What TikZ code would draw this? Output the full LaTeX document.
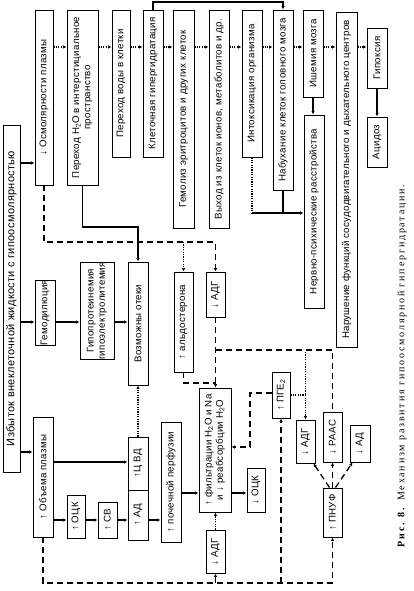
\documentclass[tikz,border=0pt]{standalone}
\usepackage{fontspec}
\setmainfont{Liberation Sans}[LetterSpace=3]
\newfontfamily\capfont{Liberation Serif}[LetterSpace=18]
\usetikzlibrary{arrows.meta}
\tikzset{
 box/.style={draw, line width=0.9pt, inner sep=0pt, font=\fontsize{9.7}{11.3}\selectfont, align=center},
 sl/.style={line width=1.3pt},
 arr/.style={-{Latex[length=3.5pt,width=3.5pt]}},
 dl/.style={line width=1.3pt, dash pattern=on 6pt off 4pt},
 dt/.style={line width=1.3pt, dash pattern=on 1.2pt off 1.2pt},
}
\newcommand\bx[6]{\node[box,minimum width={(#4)-(#2)},minimum height={(#5)-(#3)}] (#1) at ({((#2)+(#4))/2},{((#3)+(#5))/2}) {\rotatebox{90}{#6}};}
\newcommand\two[2]{\begin{tabular}{@{}c@{}}#1\\#2\end{tabular}}
\begin{document}
\begin{tikzpicture}[x=1pt,y=-1pt]
\useasboundingbox (0,0) rectangle (413,591);
% left box
\node[box,font=\fontsize{11}{13}\selectfont,minimum width=17,minimum height=347] (L) at (11.5,298.5) {\rotatebox{90}{Избыток внеклеточной жидкости с гипоосмолярностью}};
% top row
\bx{A1}{35}{10}{53}{185}{↓ Осмолярности плазмы}
\bx{A2}{67}{10}{98}{185}{\two{Переход H\textsubscript{2}O в интерстициальное}{пространство}}
\bx{A3}{112}{10}{130}{157}{Переход воды в клетки}
\bx{A4}{143}{10}{163}{157}{Клеточная гипергидратация}
\bx{A5}{173}{10}{194}{228}{Гемолиз эритроцитов и других клеток}
\bx{A6}{209}{10}{229}{228}{Выход из клеток ионов, метаболитов и др.}
\bx{A7}{242}{10}{262}{157}{Интоксикация организма}
\bx{A8}{273}{10}{293}{190}{Набухание клеток головного мозга}
\bx{A9}{303}{10}{323}{97}{Ишемия мозга}
\bx{A10}{304}{115}{324}{308}{Нервно-психические расстройства}
\bx{A11}{336}{12}{357}{347}{Нарушение функций сосудодвигательного и дыхательного центров}
\bx{A12}{367}{28}{387}{88}{Гипоксия}
\bx{A13}{367}{117}{387}{167}{Ацидоз}
% middle
\bx{G1}{35}{282}{55}{343}{Гемодилюция}
\bx{G2}{80}{265}{114}{357}{\two{Гипопротеинемия}{гипоэлектролитемия}}
\bx{G3}{128}{262}{148}{385}{Возможны отеки}
\bx{ALD}{174}{272}{193}{372}{↑ альдостерона}
\bx{ADGu}{206}{272}{225}{317}{↓ АДГ}
\bx{PGE}{272}{372}{290}{418}{↑ ПГЕ\textsubscript{2}}
% bottom
\bx{B1}{33}{417}{53}{537}{↑ Объема плазмы}
\bx{OCK}{67}{495}{85}{538}{↑ ОЦК}
\bx{SV}{98}{502}{117}{538}{↑ СВ}
\bx{CVD}{128}{437}{148}{490}{↑Ц ВД}
\bx{AD}{128}{490}{148}{540}{↑ АД}
\bx{PER}{161}{422}{181}{542}{↑ почечной перфузии}
\bx{FIL}{199}{388}{231}{512}{\two{↑ фильтрации H\textsubscript{2}O и Na}{и ↓ реабсорбции H\textsubscript{2}O}}
\bx{OCKl}{247}{468}{265}{512}{↓ ОЦК}
\bx{ADGl}{206}{530}{225}{573}{↓ АДГ}
\bx{ADGr}{296}{420}{315}{463}{↓ АДГ}
\bx{RAAS}{323}{412}{342}{462}{↓ РААС}
\bx{ADr}{350}{425}{370}{462}{↓ АД}
\bx{PNUF}{323}{488}{342}{537}{↑ ПНУФ}
% caption
\node[inner sep=0pt] (cap) at (402,366) {\rotatebox{90}{\capfont\fontsize{10}{12}\selectfont\textbf{Рис. 8.} Механизм развития гипоосмолярной гипергидратации.}};
% top row dotted arrows
\foreach \a/\b in {A1/A2,A2/A3,A3/A4,A4/A5,A5/A6,A6/A7,A7/A8,A8/A9,A9/A11,A11/A12}
  \draw[dt,arr] (\a.east|-0,47) -- (\b.west|-0,47);
\draw[sl,arr] (L.east|-0,163) -- (A1.west|-0,163);
\draw[sl,arr] (A4.north) -- (A4.north|-0,2) -| (A8.north);
\draw[dt] (A7.south) -- (A7.south|-0,213);
\draw[sl] (A8.south) -- (A8.south|-0,213);
\draw[sl,arr] (A7.south|-0,213) -- (A10.west|-0,213);
\draw[sl,arr] (A9.south) -- (A9.south|-A10.north);
\draw[sl,arr] (A12.south) -- (A12.south|-A13.north);
% middle solid
\draw[sl,arr] (L.east|-0,322) -- (G1.west|-0,322);
\draw[sl,arr] (G1.east|-0,322) -- (G2.west|-0,322);
\draw[sl,arr] (G2.east|-0,322) -- (G3.west|-0,322);
\draw[sl,arr] (A2.south) -- (A2.south|-0,227) -| (G3.north);
% osmolarity dashed
\draw[dl,arr] (A1.south) -- (A1.south|-0,242) -| (ADGu.north);
\draw[dt,arr] (ALD.north|-0,242) -- (ALD.north);
\draw[dl,arr] (ADGu.south) -- (ADGu.south|-FIL.north);
\draw[dl] (ALD.south) -- (ALD.south|-0,383) -- (ADGu.south|-0,383);
\draw[dl] (ADGu.south|-0,350) -| (RAAS.north);
\draw[dt,arr] (ADGr.north|-0,352) -- (ADGr.north);
\draw[dt] (PGE.east|-0,395) -- (ADGr.north|-0,395);
\coordinate (p1) at (250,393);
\coordinate (p2) at (250,447);
\draw[dl,arr] (PGE.west|-p1) -- (p1) -- (p2) -- (FIL.east|-p2);
% bottom solid
\draw[sl,arr] (L.east|-0,452) -- (B1.west|-0,452);
\draw[sl,arr] (B1.east|-0,520) -- (OCK.west|-0,520);
\draw[sl,arr] (OCK.east|-0,520) -- (SV.west|-0,520);
\draw[sl,arr] (SV.east|-0,520) -- (AD.west|-0,520);
\draw[sl,arr] (B1.east|-0,462) -- (CVD.west|-0,462);
\draw[sl,arr] (AD.east|-0,520) -- (PER.west|-0,520);
\draw[sl,arr] (PER.east|-0,493) -- (FIL.west|-0,493);
\draw[sl,arr] (FIL.east|-0,493) -- (OCKl.west|-0,493);
\draw[dt,arr] (CVD.north) -- (CVD.north|-G3.south);
% bottom dashed
\draw[dl,arr] (B1.south) -- (B1.south|-0,583) -| (PNUF.south);
\draw[dl,arr] (ADGl.south|-0,583) -- (ADGl.south);
\draw[dl,arr] (PGE.south|-0,583) -- (PGE.south);
\draw[dt,arr] (ADGl.north) -- (ADGl.north|-FIL.south);
\draw[dl,arr] ([xshift=-3]PNUF.north) -- ([xshift=-2]ADGr.south east);
\draw[dl,arr] (PNUF.north) -- (RAAS.south);
\draw[dl,arr] ([xshift=3]PNUF.north) -- ([xshift=3]ADr.south west);
\end{tikzpicture}
\end{document}
